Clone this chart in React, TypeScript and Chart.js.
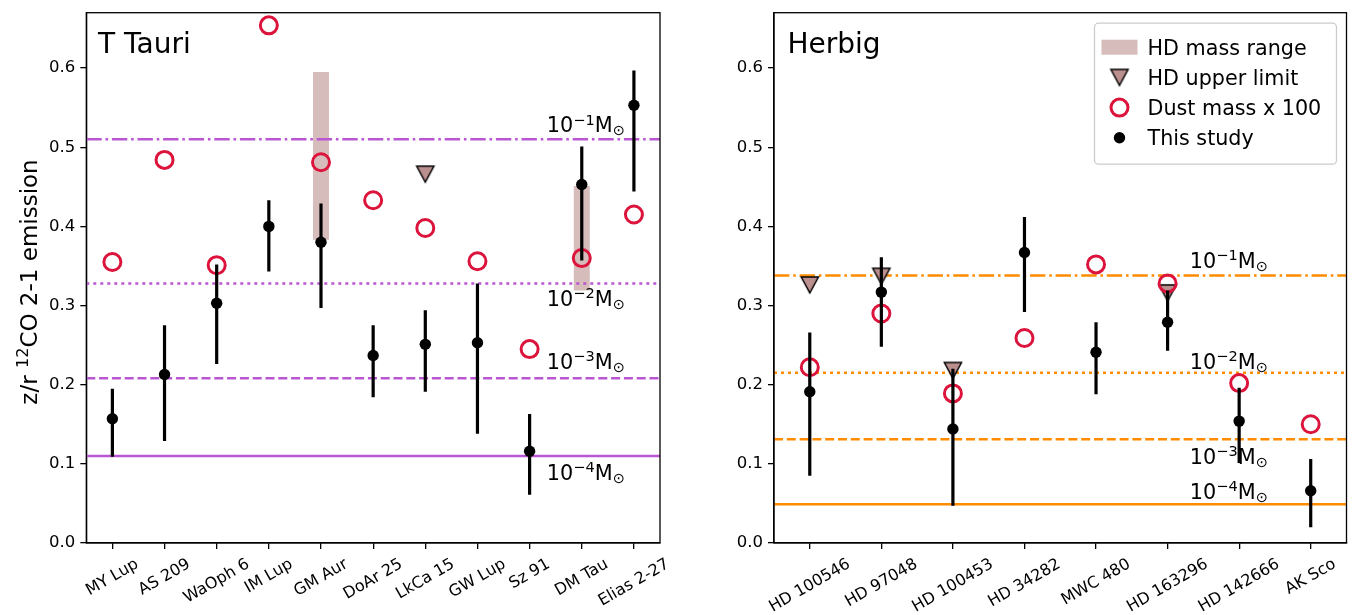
import React, { useEffect, useRef } from "react";
import { Chart, registerables } from "chart.js";
Chart.register(...registerables);

const FONT = "'DejaVu Sans', sans-serif";

// ---------------- T Tauri data ----------------
const ttCats = ["MY Lup", "AS 209", "WaOph 6", "IM Lup", "GM Aur", "DoAr 25", "LkCa 15", "GW Lup", "Sz 91", "DM Tau", "Elias 2-27"];
const ttVal = [0.157, 0.213, 0.303, 0.400, 0.380, 0.237, 0.251, 0.253, 0.116, 0.453, 0.553];
const ttLo = [0.109, 0.129, 0.226, 0.343, 0.297, 0.184, 0.191, 0.138, 0.061, 0.357, 0.444];
const ttHi = [0.195, 0.275, 0.352, 0.433, 0.429, 0.275, 0.294, 0.328, 0.163, 0.501, 0.597];
const ttDust = [0.355, 0.484, 0.351, 0.654, 0.481, 0.433, 0.398, 0.356, 0.245, 0.360, 0.415];
const ttUpper = [null, null, null, null, null, null, 0.466, null, null, null, null];
const ttRangeLo = [null, null, null, null, 0.383, null, null, null, null, 0.319, null];
const ttRangeHi = [null, null, null, null, 0.595, null, null, null, null, 0.451, null];
const ttMassLines = [0.510, 0.328, 0.208, 0.110];
const ttMassLabelY = [0.519, 0.300, 0.220, 0.0795];
const ttMassLabelX = 8.33;

// ---------------- Herbig data ----------------
const hbCats = ["HD 100546", "HD 97048", "HD 100453", "HD 34282", "MWC 480", "HD 163296", "HD 142666", "AK Sco"];
const hbVal = [0.191, 0.317, 0.144, 0.367, 0.241, 0.279, 0.154, 0.066];
const hbLo = [0.085, 0.248, 0.047, 0.292, 0.188, 0.243, 0.101, 0.020];
const hbHi = [0.266, 0.361, 0.220, 0.412, 0.279, 0.319, 0.196, 0.106];
const hbDust = [0.222, 0.290, 0.189, 0.259, 0.352, 0.328, 0.202, 0.150];
const hbUpper = [0.326, 0.337, 0.218, null, null, 0.316, null, null];
const hbRangeLo: (number | null)[] = [null, null, null, null, null, null, null, null];
const hbRangeHi: (number | null)[] = [null, null, null, null, null, null, null, null];
const hbMassLines = [0.338, 0.215, 0.131, 0.049];
const hbMassLabelY = [0.348, 0.220, 0.0997, 0.0556];
const hbMassLabelX = 5.31;

const massExps = ["1", "2", "3", "4"];
const yTicks = [0, 0.1, 0.2, 0.3, 0.4, 0.5, 0.6];
const yMax = 0.67;
const legendLabels = ["HD mass range", "HD upper limit", "Dust mass x 100", "This study"];

// ---------------- styles ----------------
const lineDashes = [[15.4, 3.8, 2.6, 3.8], [3, 4], [9, 3.8], []];
const RANGE_COLOR = "rgba(188,143,143,0.6)";
const TRI_COLOR = "#bc8f8f";
const DUST_COLOR = "#dc143c";

function makeTriangle(): HTMLCanvasElement {
  const c = document.createElement("canvas");
  c.width = 22;
  c.height = 22;
  const g = c.getContext("2d")!;
  g.beginPath();
  g.moveTo(11 - 8.6, 11 - 8);
  g.lineTo(11 + 8.6, 11 - 8);
  g.lineTo(11, 11 + 8);
  g.closePath();
  g.fillStyle = TRI_COLOR;
  g.fill();
  g.lineWidth = 1.5;
  g.strokeStyle = "#000";
  g.lineJoin = "miter";
  g.stroke();
  return c;
}

type Panel = {
  cats: string[];
  val: number[];
  lo: number[];
  hi: number[];
  dust: number[];
  upper: (number | null)[];
  rangeLo: (number | null)[];
  rangeHi: (number | null)[];
  massLines: number[];
  massLabelY: number[];
  massLabelX: number;
  lineColor: string;
  title: string;
  titleDx: number;
  yTitle: boolean;
  legend: boolean;
  width: number;
  areaLeft: number;
  areaRight: number;
};

function segs(lo: (number | null)[], hi: (number | null)[]) {
  const out: any[] = [];
  lo.forEach((l, i) => {
    const h = hi[i];
    if (l == null || h == null) return;
    out.push({ x: i, y: l }, { x: i, y: h }, { x: i, y: null });
  });
  return out;
}

function pts(v: (number | null)[]) {
  const out: any[] = [];
  v.forEach((y, i) => {
    if (y != null) out.push({ x: i, y });
  });
  return out;
}

function drawMass(ctx: CanvasRenderingContext2D, x: number, y: number, exp: string) {
  const f = 20.8;
  ctx.fillStyle = "#000";
  ctx.textAlign = "left";
  ctx.textBaseline = "alphabetic";
  ctx.font = `${f}px ${FONT}`;
  ctx.fillText("10", x, y);
  let cx = x + ctx.measureText("10").width;
  ctx.font = `${f * 0.7}px ${FONT}`;
  const sup = "\u2212" + exp;
  ctx.fillText(sup, cx, y - 0.37 * f);
  cx += ctx.measureText(sup).width;
  ctx.font = `${f}px ${FONT}`;
  ctx.fillText("M", cx, y);
  cx += ctx.measureText("M").width;
  ctx.font = `${f * 0.7}px ${FONT}`;
  ctx.fillText("\u2299", cx, y + 0.15 * f);
}

function buildChart(canvas: HTMLCanvasElement, p: Panel, tri: HTMLCanvasElement) {
  const n = p.cats.length;
  const xMin = -0.5;
  const xMax = n - 0.5;
  const datasets: any[] = [];
  datasets.push({
    label: "range",
    data: segs(p.rangeLo, p.rangeHi),
    showLine: true,
    borderColor: RANGE_COLOR,
    borderWidth: 16,
    borderCapStyle: "butt",
    pointRadius: 0,
    order: 10,
  });
  p.massLines.forEach((v, k) => {
    datasets.push({
      label: "mass" + k,
      data: [
        { x: xMin, y: v },
        { x: xMax, y: v },
      ],
      showLine: true,
      borderColor: p.lineColor,
      borderWidth: 2.5,
      borderDash: lineDashes[k],
      borderCapStyle: "butt",
      pointRadius: 0,
      order: 9,
    });
  });
  datasets.push({
    label: "upper",
    data: pts(p.upper),
    pointStyle: tri,
    pointRadius: 10,
    order: 8,
  });
  datasets.push({
    label: "dust",
    data: pts(p.dust),
    pointStyle: "circle",
    pointRadius: 8.5,
    pointBorderWidth: 3,
    pointBorderColor: DUST_COLOR,
    pointBackgroundColor: "rgba(0,0,0,0)",
    order: 7,
  });
  datasets.push({
    label: "err",
    data: segs(p.lo, p.hi),
    showLine: true,
    borderColor: "#000",
    borderWidth: 3.2,
    borderCapStyle: "butt",
    pointRadius: 0,
    order: 6,
  });
  datasets.push({
    label: "val",
    data: pts(p.val),
    pointStyle: "circle",
    pointRadius: 5.7,
    pointBorderWidth: 0,
    pointBackgroundColor: "#000",
    pointBorderColor: "#000",
    order: 5,
  });

  const overlay = {
    id: "overlay",
    afterDraw(chart: any) {
      const ctx: CanvasRenderingContext2D = chart.ctx;
      const a = chart.chartArea;
      const xs = chart.scales.x;
      const ys = chart.scales.y;
      ctx.save();
      // frame
      ctx.strokeStyle = "#000";
      ctx.lineWidth = 1.3;
      ctx.strokeRect(a.left, a.top, a.right - a.left, a.bottom - a.top);
      // x tick labels (rotated, centred on tick)
      ctx.fillStyle = "#000";
      ctx.font = `16px ${FONT}`;
      p.cats.forEach((c, i) => {
        const px = xs.getPixelForValue(i);
        const w = ctx.measureText(c).width;
        const h = 16 * 1.17;
        const bh = w * 0.5 + h * 0.866;
        const cy = a.bottom + 12 + bh / 2;
        ctx.save();
        ctx.translate(px, cy);
        ctx.rotate(-Math.PI / 6);
        ctx.textAlign = "center";
        ctx.textBaseline = "middle";
        ctx.fillText(c, 0, 0);
        ctx.restore();
      });
      // panel title
      ctx.font = `28px ${FONT}`;
      ctx.textAlign = "left";
      ctx.textBaseline = "alphabetic";
      ctx.fillText(p.title, a.left + p.titleDx, a.top + 40);
      // mass annotations
      p.massLabelY.forEach((v, k) => {
        drawMass(ctx, xs.getPixelForValue(p.massLabelX), ys.getPixelForValue(v), massExps[k]);
      });
      // y title
      if (p.yTitle) {
        const f = 23;
        const parts: [string, number, number][] = [
          ["z/r ", 1, 0],
          ["12", 0.7, -0.37],
          ["CO 2-1 emission", 1, 0],
        ];
        let tw = 0;
        parts.forEach(([t, s]) => {
          ctx.font = `${f * s}px ${FONT}`;
          tw += ctx.measureText(t).width;
        });
        ctx.save();
        ctx.translate(37, 282);
        ctx.rotate(-Math.PI / 2);
        let cx = -tw / 2;
        parts.forEach(([t, s, dy]) => {
          ctx.font = `${f * s}px ${FONT}`;
          ctx.fillText(t, cx, dy * f);
          cx += ctx.measureText(t).width;
        });
        ctx.restore();
      }
      // legend
      if (p.legend) {
        const bx = a.right - 252;
        const by = a.top + 10.5;
        const bw = 242;
        const bhh = 141;
        const r = 4;
        ctx.beginPath();
        ctx.moveTo(bx + r, by);
        ctx.lineTo(bx + bw - r, by);
        ctx.arcTo(bx + bw, by, bx + bw, by + r, r);
        ctx.lineTo(bx + bw, by + bhh - r);
        ctx.arcTo(bx + bw, by + bhh, bx + bw - r, by + bhh, r);
        ctx.lineTo(bx + r, by + bhh);
        ctx.arcTo(bx, by + bhh, bx, by + bhh - r, r);
        ctx.lineTo(bx, by + r);
        ctx.arcTo(bx, by, bx + r, by, r);
        ctx.closePath();
        ctx.fillStyle = "rgba(255,255,255,0.8)";
        ctx.fill();
        ctx.strokeStyle = "#cccccc";
        ctx.lineWidth = 1.3;
        ctx.stroke();
        const hx = bx + 25;
        const tx = bx + 53;
        legendLabels.forEach((lab, k) => {
          const cy = by + 24 + k * 30.2;
          if (k === 0) {
            ctx.fillStyle = RANGE_COLOR;
            ctx.fillRect(hx - 18, cy - 7.5, 36, 15);
          } else if (k === 1) {
            ctx.drawImage(tri, hx - 11, cy - 11);
          } else if (k === 2) {
            ctx.beginPath();
            ctx.arc(hx, cy, 8.5, 0, Math.PI * 2);
            ctx.strokeStyle = DUST_COLOR;
            ctx.lineWidth = 3;
            ctx.stroke();
          } else {
            ctx.beginPath();
            ctx.arc(hx, cy, 5.7, 0, Math.PI * 2);
            ctx.fillStyle = "#000";
            ctx.fill();
          }
          ctx.fillStyle = "#000";
          ctx.font = `20.7px ${FONT}`;
          ctx.textAlign = "left";
          ctx.textBaseline = "alphabetic";
          ctx.fillText(lab, tx, cy + 7.5);
        });
      }
      ctx.restore();
    },
  };

  const axisGrid = {
    display: true,
    drawOnChartArea: false,
    drawTicks: true,
    tickLength: 6,
    color: "#000",
    lineWidth: 1.3,
  };
  const axisBorder = { display: true, color: "#000", width: 1.3 };

  return new Chart(canvas, {
    type: "scatter",
    data: { datasets },
    options: {
      animation: false,
      responsive: false,
      events: [],
      layout: { padding: { left: 0, right: p.width - p.areaRight, top: 12.7, bottom: 0 } },
      plugins: { legend: { display: false }, tooltip: { enabled: false } },
      elements: { line: { tension: 0 } },
      scales: {
        x: {
          type: "linear",
          min: xMin,
          max: xMax,
          afterBuildTicks: (s: any) => {
            s.ticks = p.cats.map((_, i) => ({ value: i }));
          },
          afterFit: (s: any) => {
            s.height = 72;
            s.paddingLeft = 0;
            s.paddingRight = 0;
          },
          ticks: { display: false },
          grid: axisGrid,
          border: axisBorder,
        },
        y: {
          type: "linear",
          min: 0,
          max: yMax,
          afterBuildTicks: (s: any) => {
            s.ticks = yTicks.map((v) => ({ value: v }));
          },
          afterFit: (s: any) => {
            s.width = p.areaLeft;
            s.paddingTop = 0;
            s.paddingBottom = 0;
          },
          ticks: {
            callback: (v: any) => Number(v).toFixed(1),
            font: { family: FONT, size: 16.5 },
            color: "#000",
            padding: 5,
          },
          grid: axisGrid,
          border: axisBorder,
        },
      },
    } as any,
    plugins: [overlay],
  });
}

const leftPanel: Panel = {
  cats: ttCats,
  val: ttVal,
  lo: ttLo,
  hi: ttHi,
  dust: ttDust,
  upper: ttUpper,
  rangeLo: ttRangeLo,
  rangeHi: ttRangeHi,
  massLines: ttMassLines,
  massLabelY: ttMassLabelY,
  massLabelX: ttMassLabelX,
  lineColor: "#ba55d3",
  title: "T Tauri",
  titleDx: 11.7,
  yTitle: true,
  legend: false,
  width: 700,
  areaLeft: 86.3,
  areaRight: 660,
};

const rightPanel: Panel = {
  cats: hbCats,
  val: hbVal,
  lo: hbLo,
  hi: hbHi,
  dust: hbDust,
  upper: hbUpper,
  rangeLo: hbRangeLo,
  rangeHi: hbRangeHi,
  massLines: hbMassLines,
  massLabelY: hbMassLabelY,
  massLabelX: hbMassLabelX,
  lineColor: "#ff8c00",
  title: "Herbig",
  titleDx: 13.4,
  yTitle: false,
  legend: true,
  width: 658,
  areaLeft: 74,
  areaRight: 647,
};

export default function App() {
  const leftRef = useRef<HTMLCanvasElement>(null);
  const rightRef = useRef<HTMLCanvasElement>(null);
  useEffect(() => {
    Chart.defaults.font.family = FONT;
    const tri = makeTriangle();
    const c1 = buildChart(leftRef.current!, leftPanel, tri);
    const c2 = buildChart(rightRef.current!, rightPanel, tri);
    return () => {
      c1.destroy();
      c2.destroy();
    };
  }, []);
  return (
    <div style={{ position: "absolute", left: 0, top: 0, width: 1358, height: 615, background: "#fff", overflow: "hidden" }}>
      <canvas ref={leftRef} width={700} height={615} style={{ position: "absolute", left: 0, top: 0, width: 700, height: 615 }} />
      <canvas ref={rightRef} width={658} height={615} style={{ position: "absolute", left: 700, top: 0, width: 658, height: 615 }} />
    </div>
  );
}
